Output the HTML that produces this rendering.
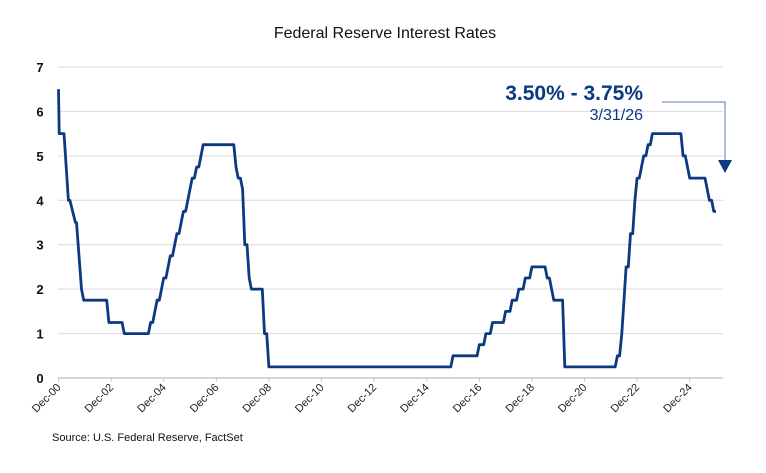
<!DOCTYPE html>
<html><head><meta charset="utf-8"><style>
body{margin:0;background:#fff;}
svg{display:block;font-family:"Liberation Sans",Arial,sans-serif;}
</style></head><body>
<svg id="s" width="766" height="473" viewBox="0 0 766 473">
<text x="385" y="38" text-anchor="middle" font-size="16" fill="#111">Federal Reserve Interest Rates</text>
<g id="grid" stroke="#d9d9d9" stroke-width="1"></g>
<line x1="58" y1="378" x2="723" y2="378" stroke="#c8c8c8" stroke-width="1.5"/>
<g id="yl" font-size="13" font-weight="bold" fill="#111" text-anchor="middle"></g>
<g id="xl" font-size="11" fill="#222" text-anchor="end"></g>
<path id="line" fill="none" stroke="#0b3a82" stroke-width="2.8" stroke-linejoin="round"/>
<text x="643" y="100" text-anchor="end" font-size="21" font-weight="bold" fill="#0b3a82">3.50% - 3.75%</text>
<text x="643" y="120" text-anchor="end" font-size="16" fill="#0b3a82">3/31/26</text>
<polyline points="662,102 725,102 725,160" fill="none" stroke="#5b7fb0" stroke-width="1"/>
<polygon points="718,160 732,160 725,173" fill="#0b3a82"/>
<text x="52" y="441" font-size="11" fill="#111">Source: U.S. Federal Reserve, FactSet</text>
</svg>
<script>
var NS="http://www.w3.org/2000/svg";
function Y(v){return 378-v*44.43;}
var g=document.getElementById('grid'),yl=document.getElementById('yl'),xl=document.getElementById('xl');
for(var i=0;i<=7;i++){
 if(i>0){var l=document.createElementNS(NS,'line');l.setAttribute('x1',58);l.setAttribute('x2',723);l.setAttribute('y1',Y(i));l.setAttribute('y2',Y(i));g.appendChild(l);}
 var t=document.createElementNS(NS,'text');t.setAttribute('x',40);t.setAttribute('y',Y(i)+5);t.textContent=i;yl.appendChild(t);
}
var x0=58.5,pm=26.3/12;
function X(m){return x0+m*pm;}
for(var k=0;k<=12;k++){
 var m=k*24,x=X(m);
 var tk=document.createElementNS(NS,'line');tk.setAttribute('x1',x);tk.setAttribute('x2',x);tk.setAttribute('y1',378);tk.setAttribute('y2',382);tk.setAttribute('stroke','#c8c8c8');document.getElementById('s').insertBefore(tk,xl);
 var t=document.createElementNS(NS,'text');var yy=(k*2);t.textContent='Dec-'+(yy<10?'0':'')+yy;
 t.setAttribute('transform','translate('+(x+3)+',388) rotate(-45)');xl.appendChild(t);
}
var ch=[
[2002,11,1.25],[2003,6,1.0],[2004,6,1.25],[2004,8,1.5],[2004,9,1.75],[2004,11,2.0],[2004,12,2.25],
[2005,2,2.5],[2005,3,2.75],[2005,5,3.0],[2005,6,3.25],[2005,8,3.5],[2005,9,3.75],[2005,11,4.0],[2005,12,4.25],
[2006,1,4.5],[2006,3,4.75],[2006,5,5.0],[2006,6,5.25],[2007,9,4.75],[2007,10,4.5],[2007,12,4.25],
[2008,1,3.0],[2008,3,2.25],[2008,4,2.0],[2008,10,1.0],[2008,12,0.25],
[2015,12,0.5],[2016,12,0.75],[2017,3,1.0],[2017,6,1.25],[2017,12,1.5],[2018,3,1.75],[2018,6,2.0],[2018,9,2.25],[2018,12,2.5],
[2019,7,2.25],[2019,9,2.0],[2019,10,1.75],[2020,3,0.25],
[2022,3,0.5],[2022,5,1.0],[2022,6,1.75],[2022,7,2.5],[2022,9,3.25],[2022,11,4.0],[2022,12,4.5],
[2023,2,4.75],[2023,3,5.0],[2023,5,5.25],[2023,7,5.5],[2024,9,5.0],[2024,11,4.75],[2024,12,4.5],
[2025,8,4.25],[2025,9,4.0],[2025,11,3.75]];
var pre=[[0,6.5],[0.3,5.5],[2.5,5.5],[4.5,4.0],[5.2,4.0],[7.7,3.5],[8.2,3.5],[10.5,2.0],[11.5,1.75]];
var d='';
pre.forEach(function(p,i){d+=(i?'L':'M')+X(p[0]).toFixed(1)+','+Y(p[1]).toFixed(1);});
var v=1.75,ci=0;
for(var m=12;m<=300;m++){
 while(ci<ch.length){var c=ch[ci];var cm=(c[0]-2000)*12+c[1]-12;if(cm<=m){v=c[2];ci++;}else break;}
 d+='L'+X(m).toFixed(1)+','+Y(v).toFixed(1);
}
document.getElementById('line').setAttribute('d',d);
</script>
</body></html>
